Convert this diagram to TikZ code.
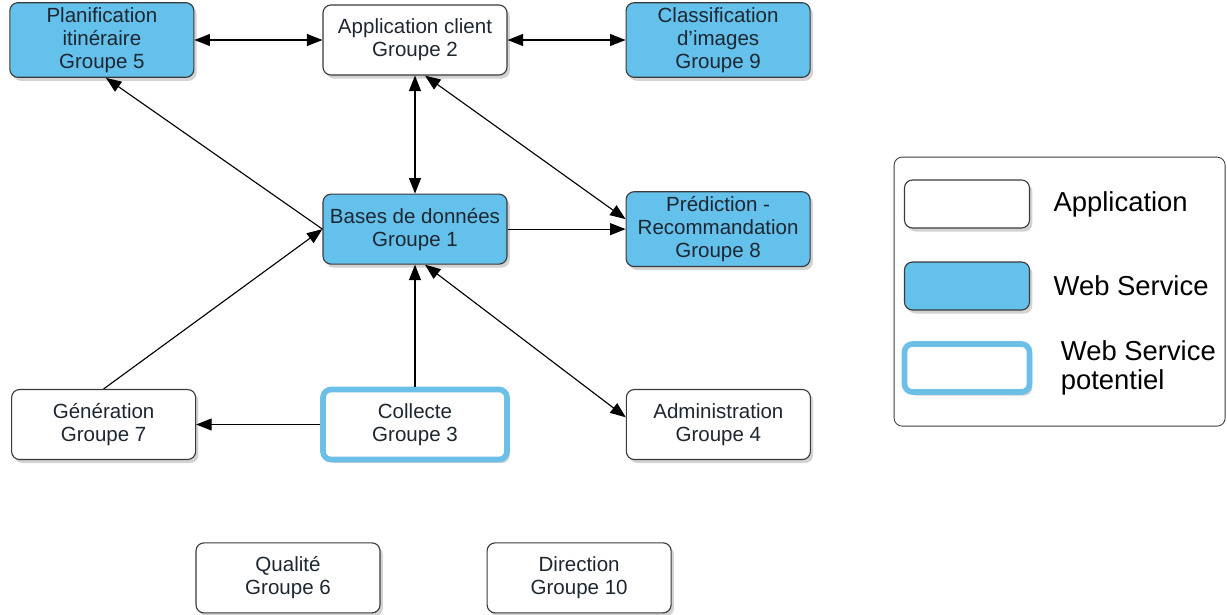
\documentclass[tikz,border=0pt]{standalone}
\usepackage{fontspec}
\setmainfont{Liberation Sans}
\usepackage{xcolor}
\usetikzlibrary{positioning}
\usetikzlibrary{arrows.meta}
\usetikzlibrary{shadows}
\definecolor{wsblue}{HTML}{63C1EC}
\definecolor{wsedge}{HTML}{6CC0E8}
\definecolor{boxedge}{HTML}{3A3A3A}
\definecolor{txtdark}{HTML}{1E2630}

\begin{document}
\begin{tikzpicture}[-> , >={Triangle[length=11pt,width=8.5pt]}, line width=0.8pt,
    node distance=2.95cm,
    groupe/.style={rectangle, rounded corners=0.2cm, draw=boxedge, line width=0.8pt,
        fill=white, text=txtdark, minimum width=4.6cm, minimum height=1.75cm, align=center,
        font=\fontsize{14.6}{16.4}\selectfont,
        drop shadow={shadow xshift=2pt, shadow yshift=-2.5pt, opacity=0.35}},
    service/.style={groupe, fill=wsblue},
    potentiel/.style={groupe, draw=wsedge, line width=4pt},
    cle/.style={minimum width=3.125cm, minimum height=1.2cm},
    legtext/.style={font=\fontsize{19.5}{21}\selectfont, align=left, inner sep=0pt}]
    \useasboundingbox (0,0) rectangle (30.675,-15.35);

        % les groupes
        \node [groupe] (g2) at (10.375,-1.0) {Application client\\Groupe 2};
        \node [service, left=3.2cm of g2] (g5) {Planification\\itinéraire\\Groupe 5};
        \node [service, right=of g2] (g9) {Classification\\d’images\\Groupe 9};
        \node [service, below=of g2] (g1) {Bases de données\\Groupe 1};
        \node [service, right=of g1] (g8) {Prédiction -\\Recommandation\\Groupe 8};
        \node [potentiel, below=3.05cm of g1] (g3) {Collecte\\Groupe 3};
        \node [groupe, left=3.1cm of g3] (g7) {Génération\\Groupe 7};
        \node [groupe, right=2.9cm of g3] (g4) {Administration\\Groupe 4};
        \node [groupe, below=2cm of g3, xshift=-3.175cm] (g6) {Qualité\\Groupe 6};
        \node [groupe, right=2.65cm of g6] (g10) {Direction\\Groupe 10};

        \path (g5) edge[<->] (g2);
        \path (g2) edge[<->] (g9);
        \path (g2) edge[<->] (g1);
        \path ([xshift=0.25cm]g2.south) edge[<->] ([yshift=0.25cm]g8.west);
        \path (g1) edge (g8);
        \path (g1.west) edge ([xshift=0.1cm]g5.south);
        \path (g7.north) edge (g1.west);
        \path (g3) edge (g1);
        \path (g3) edge (g7);
        \path ([xshift=0.25cm]g1.south) edge[<->] ([yshift=0.18cm]g4.west);

        % legende
        \node [rectangle, rounded corners=0.2cm, draw=boxedge, line width=0.6pt,
            minimum width=8.275cm, minimum height=6.725cm] (legende) at (26.49,-7.29) {};
        \node [groupe, cle] (cle1) at (24.175,-5.1) {};
        \node [service, cle] (cle2) at (24.175,-7.15) {};
        \node [potentiel, cle] (cle3) at (24.175,-9.2) {};
        \node [legtext, right=0.575cm of cle1] (txt1) {Application};
        \node [legtext, right=0.575cm of cle2] (txt2) {Web Service};
        \node [legtext, right=0.7cm of cle3] (txt3) {Web Service\\potentiel};
    \end{tikzpicture}
\end{document}
